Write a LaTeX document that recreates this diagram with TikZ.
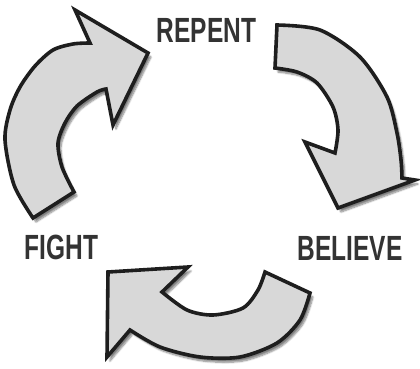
\documentclass[tikz,border=0pt]{standalone}
\usepackage{fontspec}
\newfontfamily\labfont{Liberation Sans}[FakeStretch=0.70]
\usetikzlibrary{shadows.blur}
\definecolor{arrowfill}{HTML}{D8D8D8}
\definecolor{arrowline}{HTML}{1E1E1E}
\definecolor{labcol}{HTML}{333333}
\tikzset{
  bigarrow/.style={fill=arrowfill, draw=arrowline, line width=3.6pt, line join=miter,
    blur shadow={shadow xshift=3pt, shadow yshift=-4pt, shadow blur steps=8, shadow opacity=50}},
  lab/.style={text=labcol, font=\labfont\bfseries\fontsize{35}{35}\selectfont, inner sep=0pt}
}
\begin{document}
\begin{tikzpicture}[x=1pt,y=-1pt]
\useasboundingbox (0,0) rectangle (420,369);
% left arrow (FIGHT -> REPENT)
\path[bigarrow] (33,218) -- plot[smooth] coordinates {(33,218) (14,185) (5,140) (10,110) (20,87) (35,66) (53,50) (73,44) (90,43)}
  -- (75,10) -- (148,53) -- (113,125) -- (106,89)
  -- plot[smooth] coordinates {(106,89) (97,92) (77,106) (65,123) (58,143) (62,167) (74,192)} -- cycle;
% right arrow (REPENT -> BELIEVE)
\path[bigarrow] (277,25) -- plot[smooth] coordinates {(277,25) (320,30) (360,57) (387,97) (397,133) (401,160) (402,178)}
  -- (415,180) -- (338,208) -- (305,142) -- (335,153)
  -- plot[smooth] coordinates {(335,153) (338,130) (333,107) (317,83) (297,72) (275,68)} -- cycle;
% bottom arrow (BELIEVE -> FIGHT)
\path[bigarrow] (265,272) -- (310,293) -- plot[smooth] coordinates {(310,293) (300,320) (277,343) (240,357) (200,357) (160,347) (130,330)}
  -- (107,357) -- (108,272) -- (188,267) -- (162,292)
  -- plot[smooth] coordinates {(162,292) (187,310) (213,315) (243,308) (258,290) (265,272)} -- cycle;
\node[lab] (repent) at (206.5,30.5) {REPENT};
\node[lab] (believe) at (350,248.5) {BELIEVE};
\node[lab] (fight) at (61.5,247.5) {FIGHT};
\end{tikzpicture}
\end{document}
